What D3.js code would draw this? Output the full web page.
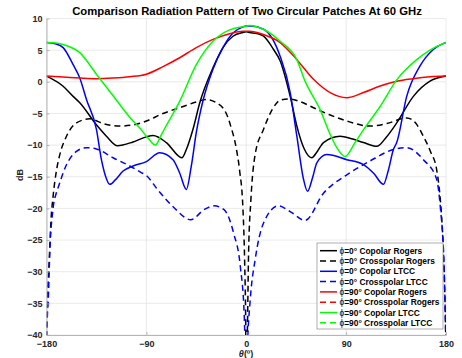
<!DOCTYPE html>
<html>
<head>
<meta charset="utf-8">
<script src="https://cdn.jsdelivr.net/npm/d3@7"></script>
<style>
  html, body { margin: 0; padding: 0; background: #fff; }
  svg { display: block; font-family: "Liberation Sans", Arial, Helvetica, sans-serif; }
</style>
</head>
<body>
<svg id="chart" width="462" height="358"></svg>
<script>
// ---- data: [theta (deg), dB] ----
const co0Rogers = [[-180,0.9],[-165,-0.7],[-156,-2.3],[-150,-3.3],[-135,-6.8],[-126,-8.6],[-116,-10.1],[-102,-9.5],[-90,-8.7],[-84,-8.5],[-72,-9.6],[-58,-12.0],[-54,-10.7],[-48,-7.5],[-42,-3.4],[-30,2.2],[-21,5.4],[-12,7.2],[-3,7.8],[0,7.9],
  [3,7.8],[12,7.5],[15.6,7.2],[24.6,5.1],[30.6,3.3],[39.6,-2.3],[45.6,-7.0],[52,-10.5],[59,-12.0],[64,-11.0],[69.6,-9.6],[84.6,-8.6],[95,-9.0],[105.6,-9.6],[117.6,-10.2],[126,-8.8],[135.6,-6.5],[150.6,-2.3],[165.6,0.1],[180,0.9]];

const cross0Rogers = [[-180,-42],[-179,-34],[-177.5,-28],[-176,-22],[-174,-18],[-171,-14],[-168,-11.5],[-162,-8.6],[-153,-6.5],[-141,-5.85],[-129,-6.6],[-114,-7.0],[-99,-6.7],[-90,-6.2],[-75,-5.0],[-60,-4.1],[-45,-3.2],[-36,-2.8],[-27,-3.3],[-18,-5.0],[-14,-7.0],[-9,-10.5],[-6,-14],[-3,-20],[-1.5,-28],[-0.5,-38],[0,-48],
  [1,-40],[2.1,-27],[4.2,-18.6],[8,-11.5],[15.6,-7.5],[24,-4.2],[30.6,-2.9],[38,-2.7],[48,-3.1],[60.6,-4.1],[75,-5.2],[90.6,-6.2],[111.6,-7.0],[126.6,-6.6],[144.6,-5.7],[153,-6.6],[159.6,-8.6],[166,-11],[171.6,-13.9],[174,-17],[176,-21.2],[178,-28],[179,-34],[180,-42]];

const co0LTCC = [[-180,6.2],[-172,6.0],[-165,5.4],[-156,2.7],[-150,0.6],[-144,-2.8],[-135,-7.5],[-130.5,-12.3],[-127,-14.8],[-123,-16.2],[-118,-15.5],[-111,-14.1],[-102,-13.3],[-90,-12.6],[-78,-11.2],[-66,-12.3],[-60,-14.4],[-54,-17.0],[-49.5,-13.3],[-45,-8.0],[-39,-3.0],[-30,2.0],[-21,5.4],[-12,7.7],[-4,8.6],[0,8.8],
  [4,8.8],[15.6,8.3],[30.6,4.0],[39.6,-1.7],[45.6,-8.6],[51.6,-15.4],[55.2,-17.3],[60,-15.0],[63.6,-12.8],[72.6,-11.5],[90.6,-12.3],[105.6,-13.1],[115,-14.5],[123.6,-16.2],[128,-14.0],[132.6,-10.7],[135.6,-9.6],[144.6,-2.3],[156.6,2.5],[168.6,5.1],[180,6.2]];

const cross0LTCC = [[-180,-42],[-179,-36],[-178.5,-34.7],[-177,-26.8],[-174,-19.9],[-171,-17.5],[-169.5,-16.7],[-162,-13.1],[-153,-11.0],[-144,-10.4],[-135,-10.6],[-120,-12.0],[-105,-13.3],[-95,-14.3],[-90,-14.8],[-80,-17],[-65,-19.9],[-50,-21.8],[-38,-20.2],[-29,-19.6],[-20,-20.2],[-11.4,-23.9],[-5.4,-29.1],[-1.8,-37],[0,-48],
  [1,-42],[3.6,-34.4],[8.1,-28],[15.6,-22.3],[29,-19.6],[39.6,-20.5],[53,-21.9],[69.6,-17.6],[90.6,-14.7],[111.6,-12.5],[132.6,-10.7],[144.6,-10.4],[159.6,-12.3],[171.6,-15.4],[175,-20],[177.6,-26.5],[179,-34],[180,-42]];

const co90Rogers = [[-180,0.9],[-165,0.75],[-150,0.6],[-135,0.5],[-120,0.6],[-105,0.8],[-90,1.2],[-75,2.4],[-60,3.8],[-45,5.4],[-30,6.7],[-15,7.6],[-3,8.0],[0,8.0],
  [3,8.0],[15,7.5],[30.6,6.2],[45.6,3.5],[60.6,0.4],[75.6,-1.7],[90.6,-2.5],[105.6,-1.7],[120,-0.7],[135.6,0.1],[150,0.5],[165.6,0.8],[180,0.9]];

const cross90Rogers = [];

const co90LTCC = [[-180,6.2],[-170,6.1],[-165,5.9],[-150,4.6],[-135,1.2],[-120,-2.2],[-105,-5.6],[-95,-7.5],[-88,-9.0],[-82,-10.0],[-76,-8.2],[-72,-6.9],[-60,-3.1],[-45,2.7],[-30,6.4],[-15,8.2],[-3,8.7],[0,8.8],
  [3,8.9],[15.3,8.3],[30.6,6.4],[45.6,3.5],[53,0.1],[66.6,-4.4],[75.6,-8.3],[82,-10.5],[89,-11.8],[98,-9.6],[105.6,-7.6],[120.6,-3.9],[135.6,0.3],[153.6,3.5],[165.6,5.0],[180,6.2]];

const cross90LTCC = [];

const seriesNames = ["ϕ=0° Copolar Rogers","ϕ=0° Crosspolar Rogers","ϕ=0° Copolar LTCC","ϕ=0° Crosspolar LTCC",
                     "ϕ=90° Copolar Rogers","ϕ=90° Crosspolar Rogers","ϕ=90° Copolar LTCC","ϕ=90° Crosspolar LTCC"];
const seriesData = [co0Rogers, cross0Rogers, co0LTCC, cross0LTCC, co90Rogers, cross90Rogers, co90LTCC, cross90LTCC];
const seriesColors = ["#000000","#000000","#0000ff","#0000ff","#ff0000","#ff0000","#00ff00","#00ff00"];
const seriesDashed = [false,true,false,true,false,true,false,true];

const xTicks = [-180,-90,0,90,180];
const yTicks = [-40,-35,-30,-25,-20,-15,-10,-5,0,5,10];
const titleText = "Comparison Radiation Pattern of Two Circular Patches At 60 GHz";

// ---- layout ----
const svg = d3.select("#chart");
const L = 46.5, R = 446, T = 18.5, B = 335;
const x = d3.scaleLinear().domain([-180,180]).range([L,R]);
const y = d3.scaleLinear().domain([-40,10]).range([B,T]);

// grid
const grid = svg.append("g").attr("stroke","#e5e5e5").attr("stroke-width",0.8);
grid.selectAll(".gx").data(xTicks).enter().append("line")
  .attr("x1",d=>x(d)).attr("x2",d=>x(d)).attr("y1",T).attr("y2",B);
grid.selectAll(".gy").data(yTicks).enter().append("line")
  .attr("x1",L).attr("x2",R).attr("y1",d=>y(d)).attr("y2",d=>y(d));

// clip
svg.append("defs").append("clipPath").attr("id","clip")
  .append("rect").attr("x",L).attr("y",T).attr("width",R-L).attr("height",B-T);

const line = d3.line().x(d=>x(d[0])).y(d=>y(d[1])).curve(d3.curveMonotoneX);
const plot = svg.append("g").attr("clip-path","url(#clip)");
seriesData.forEach((data,i)=>{
  if (!data.length) return;
  plot.append("path").datum(data)
    .attr("d",line).attr("fill","none")
    .attr("stroke",seriesColors[i]).attr("stroke-width",1.5)
    .attr("stroke-dasharray", seriesDashed[i] ? "6,4" : null);
});

// axes
const xAxis = d3.axisBottom(x).tickValues(xTicks).tickSize(-3).tickPadding(6).tickSizeOuter(0);
const yAxis = d3.axisLeft(y).tickValues(yTicks).tickSize(-3).tickPadding(4).tickSizeOuter(0);
const gx = svg.append("g").attr("transform",`translate(0,${B})`).call(xAxis);
const gy = svg.append("g").attr("transform",`translate(${L},0)`).call(yAxis);
[gx,gy].forEach(g=>{
  g.select(".domain").attr("stroke","#a6a6a6").attr("stroke-width",0.8);
  g.selectAll(".tick line").attr("stroke","#a6a6a6").attr("stroke-width",0.8);
  g.selectAll(".tick text").attr("fill","#262626").attr("font-size",9).attr("font-weight","bold")
    .attr("font-family","'Liberation Sans', Arial, sans-serif");
});

// title
svg.append("text").attr("x",247).attr("y",14.5).attr("text-anchor","middle")
  .attr("font-size",11.3).attr("font-weight","bold").attr("fill","#000").text(titleText);

// axis labels
svg.append("text").attr("transform","translate(23,175) rotate(-90)").attr("text-anchor","middle")
  .attr("font-size",9).attr("font-weight","bold").attr("fill","#262626").text("dB");
const xl = svg.append("text").attr("x",246).attr("y",357).attr("text-anchor","middle")
  .attr("font-size",9).attr("font-weight","bold").attr("fill","#262626");
xl.append("tspan").attr("font-style","italic").text("θ");
xl.append("tspan").text("(º)");

// legend
const lg = svg.append("g");
const lx = 317, ly = 243, lw = 126, lh = 86;
lg.append("rect").attr("x",lx).attr("y",ly).attr("width",lw).attr("height",lh)
  .attr("fill","#fff").attr("stroke","#8c8c8c").attr("stroke-width",0.7);
seriesNames.forEach((name,i)=>{
  const yy = 250.7 + i*10.3;
  lg.append("line").attr("x1",320).attr("x2",337).attr("y1",yy).attr("y2",yy)
    .attr("stroke",seriesColors[i]).attr("stroke-width",1.5)
    .attr("stroke-dasharray", seriesDashed[i] ? "6,4" : null);
  const t = lg.append("text").attr("x",339.5).attr("y",yy+3).attr("font-size",8.4)
    .attr("font-weight","bold").attr("fill","#000");
  t.append("tspan").attr("font-weight","normal").text(name.slice(0,1));
  t.append("tspan").text(name.slice(1));
});
</script>
</body>
</html>
